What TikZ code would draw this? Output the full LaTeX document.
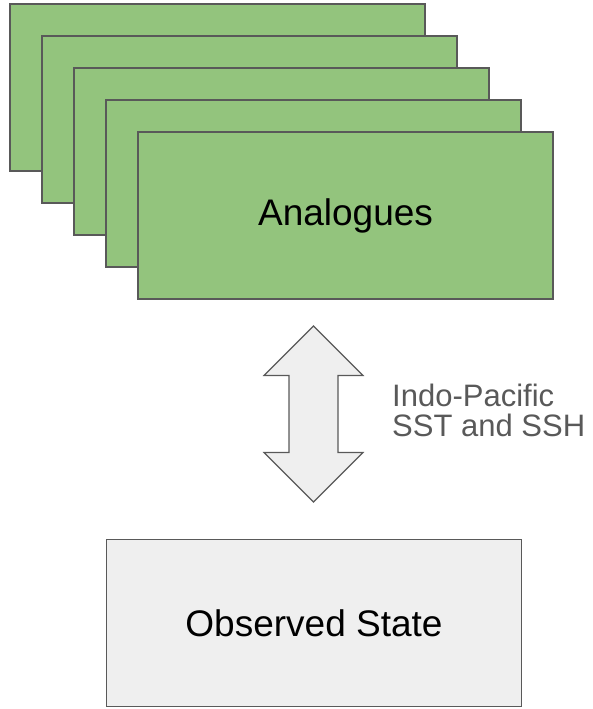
\documentclass[tikz,border=0pt]{standalone}
\usepackage{fontspec}
\setmainfont{Liberation Sans}
\usetikzlibrary{positioning}
\definecolor{analoguecolor}{HTML}{93C47D}
\definecolor{statecolor}{HTML}{EFEFEF}
\definecolor{edgecolor}{HTML}{595959}

\begin{document}
\begin{tikzpicture}[x=1pt,y=-1pt,
    stackbox/.style={draw=edgecolor, line width=1.2pt, fill=analoguecolor,
        minimum width=415pt, minimum height=167pt, inner sep=0pt,
        font=\fontsize{37}{40}\selectfont},
    statebox/.style={stackbox, fill=statecolor},
    swaparrow/.style={draw=edgecolor, line width=1.2pt, fill=statecolor, line join=miter}]
    \useasboundingbox (0,0) rectangle (592,709);

    % Stack of analogue boxes, back to front
    \foreach \i in {0,...,3} {
        \node[stackbox] (ana\i) at (217.5+32*\i, 87.5+32*\i) {};
    }
    \node[stackbox] (ana4) at (345.5, 215.5) {Analogues};

    % Observed state
    \node[statebox] (obs) at (314, 623) {Observed State};

    % Two-way comparison arrow
    \coordinate (match) at (313.5, 414);
    \draw[swaparrow] (match) ++(0,-88) -- ++(49.5,49.5) -- ++(-25,0) -- ++(0,77)
        -- ++(25,0) -- ++(-49.5,49.5) -- ++(-49.5,-49.5) -- ++(25,0)
        -- ++(0,-77) -- ++(-25,0) -- cycle;
    \node[text=edgecolor, anchor=west, align=left, inner sep=0pt,
        font=\fontsize{31}{30}\selectfont] (fields) at (392, 410)
        {Indo-Pacific\\SST and SSH};
\end{tikzpicture}
\end{document}
